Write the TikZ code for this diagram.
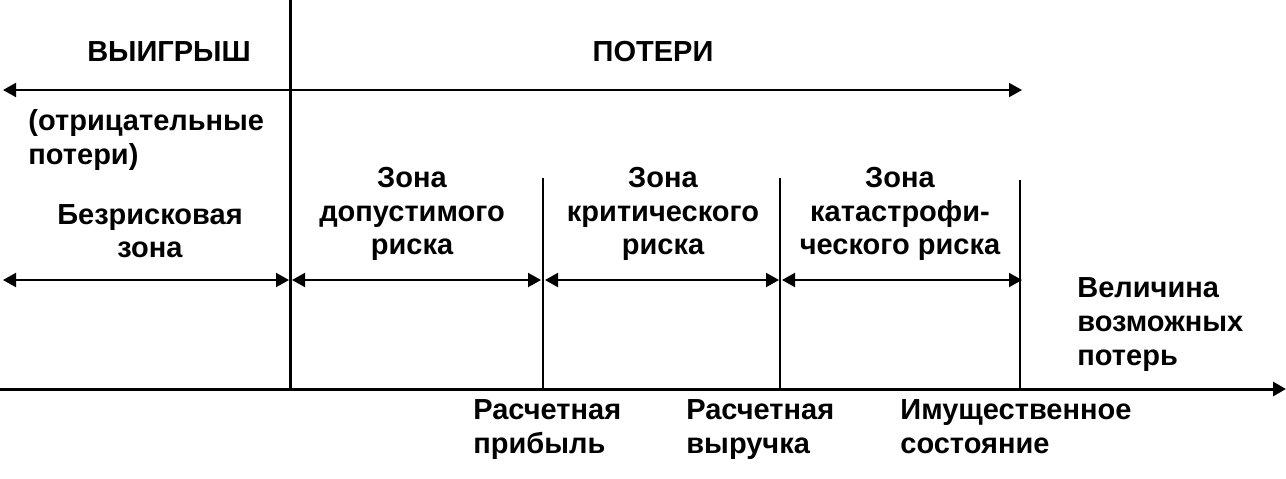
\documentclass[tikz,border=0pt]{standalone}
\usepackage{fontspec}
\setmainfont{Liberation Sans}
\usetikzlibrary{arrows.meta}
\begin{document}
\begin{tikzpicture}[x=0.5pt,y=-0.5pt,
  txt/.style={inner sep=0pt,font=\fontsize{14.5pt}{16.8pt}\selectfont\bfseries},
  thick line/.style={line width=1.5pt},
  dimline/.style={line width=1pt,{Triangle[length=6.5pt,width=7pt]}-{Triangle[length=6.5pt,width=7pt]}},
  guide/.style={line width=0.7pt},
  tip/.style={-{Triangle[length=6.5pt,width=7pt]}}]
\useasboundingbox (0,0) rectangle (1286,478);
% coordinates
\coordinate (vtop) at (290,0);
\coordinate (vbot) at (290,390);
\coordinate (axl) at (0,389);
\coordinate (axr) at (1286,389);
\coordinate (tl) at (3,90);
\coordinate (tr) at (1022,90);
\coordinate (g1t) at (543,178);
\coordinate (g1b) at (543,389);
\coordinate (g2t) at (780,178);
\coordinate (g2b) at (780,389);
\coordinate (g3t) at (1020,180);
\coordinate (g3b) at (1020,389);
\coordinate (d0a) at (3,280);
\coordinate (d0b) at (289,280);
\coordinate (d1a) at (292,280);
\coordinate (d1b) at (541,280);
\coordinate (d2a) at (545,280);
\coordinate (d2b) at (779,280);
\coordinate (d3a) at (782,280);
\coordinate (d3b) at (1022,280);
% lines
\draw[thick line] (vtop) -- (vbot);
\draw[thick line,tip] (axl) -- (axr);
\draw[dimline] (tl) -- (tr);
\draw[guide] (g1t) -- (g1b);
\draw[guide] (g2t) -- (g2b);
\draw[guide] (g3t) -- (g3b);
\draw[dimline] (d0a) -- (d0b);
\draw[dimline] (d1a) -- (d1b);
\draw[dimline] (d2a) -- (d2b);
\draw[dimline] (d3a) -- (d3b);
% texts
\node[txt] (win) at (169,52) {ВЫИГРЫШ};
\node[txt] (loss) at (653,52) {ПОТЕРИ};
\node[txt,align=left,anchor=west] (neg) at (28,140) {(отрицательные\\потери)};
\node[txt,align=center] (z0) at (150,231) {Безрисковая\\зона};
\node[txt,align=center] (z1) at (412,214) {Зона\\допустимого\\риска};
\node[txt,align=center] (z2) at (663,214) {Зона\\критического\\риска};
\node[txt,align=center] (z3) at (900,214) {Зона\\катастрофи-\\ческого риска};
\node[txt,align=left,anchor=base west] (mag) at (1077,365) {Величина\\возможных\\потерь};
\node[txt,align=left,anchor=base west] (p1) at (473,453) {Расчетная\\прибыль};
\node[txt,align=left,anchor=base west] (p2) at (686,453) {Расчетная\\выручка};
\node[txt,align=left,anchor=base west] (p3) at (900,453) {Имущественное\\состояние};
\end{tikzpicture}
\end{document}
